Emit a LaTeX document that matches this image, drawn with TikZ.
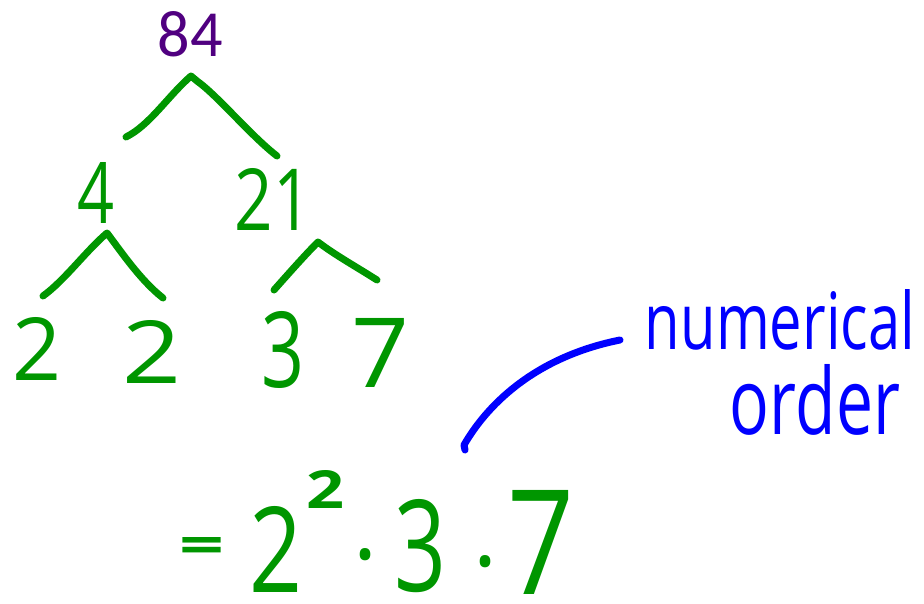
\documentclass[tikz,border=0pt]{standalone}
\usepackage{fontspec}
\usepackage{graphicx}
\setmainfont{Open Sans}
\newfontfamily\typedfont{Carlito}
\definecolor{penGreen}{RGB}{0,150,0}
\definecolor{penBlue}{RGB}{0,0,255}
\definecolor{typedPurple}{RGB}{80,0,128}
\newcommand{\hw}[3]{\resizebox{#1pt}{#2pt}{#3}}
\begin{document}
\begin{tikzpicture}[x=1pt,y=-1pt,
  hand/.style={inner sep=0pt, text=penGreen},
  handbold/.style={hand, font=\bfseries},
  typed/.style={inner sep=0pt, text=typedPurple, font=\typedfont},
  note/.style={inner sep=0pt, text=penBlue},
  branch/.style={draw=penGreen, line width=7pt, line cap=round, line join=round},
  leader/.style={draw=penBlue, line width=7pt, line cap=round, line join=round}]
\useasboundingbox (0,0) rectangle (924,603);
% tree numbers
\node[typed] (n84) at (190.5,34.5) {\hw{65}{45}{84}};
\node[hand] (n4) at (96.5,192.5) {\hw{37}{61}{4}};
\node[hand] (n21) at (273.5,199) {\hw{77}{62}{21}};
\node[hand] (n2a) at (37.5,348.5) {\hw{49}{63}{2}};
\node[hand] (n2b) at (152.5,351.5) {\hw{59}{63}{2}};
\node[hand] (n3) at (283.5,350) {\hw{43}{76}{3}};
\node[hand] (n7) at (381,352.5) {\hw{58}{69}{7}};
% branch points
\coordinate (a84) at (191,76);
\coordinate (l84) at (126,137);
\coordinate (r84) at (277,156);
\coordinate (a4) at (107,233);
\coordinate (l4) at (43,296);
\coordinate (r4) at (163,298);
\coordinate (a21) at (318,242);
\coordinate (l21) at (274,290);
\coordinate (r21) at (377,280);
\draw[branch] (l84) .. controls (150,125) and (168,96) .. (a84)
  -- (197,81) .. controls (218,96) and (250,135) .. (r84);
\draw[branch] (l4) .. controls (65,280) and (85,252) .. (a4)
  .. controls (120,250) and (140,280) .. (r4);
\draw[branch] (l21) .. controls (290,272) and (305,255) .. (a21)
  .. controls (335,255) and (355,266) .. (r21);
% result
\node[handbold] (eq) at (202.5,550) {\hw{45}{26}{=}};
\node[hand] (b2) at (276.5,549) {\hw{53}{86}{2}};
\node[handbold] (e2) at (326,489) {\hw{38}{38}{2}};
\node[hand] (d1) at (366,555) {\hw{24}{11}{.}};
\node[hand] (b3) at (421,546) {\hw{52}{92}{3}};
\node[hand] (d2) at (485,562) {\hw{24}{11}{.}};
\node[hand] (b7) at (541,542) {\hw{67}{104}{7}};
% note
\node[note] (num) at (780,320) {\hw{270}{60}{numerical}};
\node[note] (ord) at (815,400) {\hw{170}{70}{order}};
\coordinate (lstart) at (465,450);
\coordinate (lend) at (620,340);
\draw[leader] (lstart) -- (464,445) .. controls (490,400) and (540,356) .. (lend);
\end{tikzpicture}
\end{document}
